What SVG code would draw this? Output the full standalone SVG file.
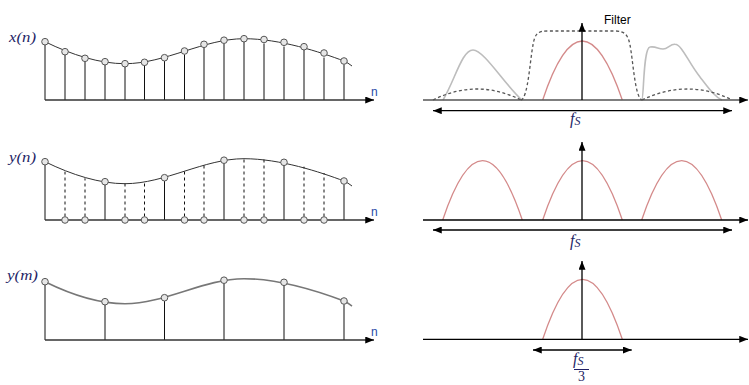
<svg xmlns="http://www.w3.org/2000/svg" width="749" height="385" viewBox="0 0 749 385">
<defs>
<marker id="ah" viewBox="0 0 10 8" refX="10" refY="4" markerWidth="9" markerHeight="7" markerUnits="userSpaceOnUse" orient="auto-start-reverse">
<path d="M0,0 L10,4 L0,8 Z" fill="#000"/>
</marker>
<path id="curve" d="M45,41.7 C72,55 100,63.7 125,63.7 C165,63.7 204,38.7 244,38.7 C280,38.7 320,52 344,61 C347,62.2 349,64 352,66"/>
</defs>
<style>
.lbl{font-family:"Liberation Serif",serif;font-style:italic;fill:#1f1f66;font-size:15px}
.nl{font-family:"Liberation Sans",sans-serif;fill:#2a4aa8;font-size:12px}
.stem{stroke:#111;stroke-width:1;fill:none}
.dstem{stroke:#111;stroke-width:1;stroke-dasharray:3,3;fill:none}
.pt{fill:#e6e6e6;stroke:#555;stroke-width:1}
.axis{stroke:#333;stroke-width:1.3;fill:none}
.red{stroke:#d48a8a;stroke-width:1.3;fill:none}
.grey{stroke:#bdbdbd;stroke-width:1.6;fill:none}
.filt{stroke:#555;stroke-width:1.3;stroke-dasharray:3,2.5;fill:none}
.fs{font-family:"Liberation Serif",serif;font-style:italic;fill:#1f1f66;font-size:16px}
.sans{font-family:"Liberation Sans",sans-serif;fill:#000;font-size:12px}
</style>

<!-- Left panel 1: x(n) -->
<g id="xn">
<text class="lbl" x="9" y="42" textLength="27" lengthAdjust="spacingAndGlyphs">x(n)</text>
<use href="#curve" fill="none" stroke="#333" stroke-width="1"/>
<g class="stem">
<line x1="45" y1="100" x2="45" y2="45"/><line x1="65" y1="100" x2="65" y2="55"/><line x1="85" y1="100" x2="85" y2="62"/><line x1="105" y1="100" x2="105" y2="65"/><line x1="125" y1="100" x2="125" y2="67"/><line x1="144.5" y1="100" x2="144.5" y2="65"/><line x1="164.5" y1="100" x2="164.5" y2="61"/><line x1="184.5" y1="100" x2="184.5" y2="54.5"/><line x1="204" y1="100" x2="204" y2="47.5"/><line x1="224" y1="100" x2="224" y2="44"/><line x1="244" y1="100" x2="244" y2="42"/><line x1="264" y1="100" x2="264" y2="43.5"/><line x1="284" y1="100" x2="284" y2="46.5"/><line x1="304" y1="100" x2="304" y2="50"/><line x1="324" y1="100" x2="324" y2="57.5"/><line x1="344" y1="100" x2="344" y2="64.5"/>
</g>
<g class="pt">
<circle cx="45" cy="41.7" r="3.3"/><circle cx="65" cy="51.7" r="3.3"/><circle cx="85" cy="58.3" r="3.3"/><circle cx="105" cy="61.7" r="3.3"/><circle cx="125" cy="63.7" r="3.3"/><circle cx="144.5" cy="62.3" r="3.3"/><circle cx="164.5" cy="57.7" r="3.3"/><circle cx="184.5" cy="51" r="3.3"/><circle cx="204" cy="44.3" r="3.3"/><circle cx="224" cy="40.2" r="3.3"/><circle cx="244" cy="38.7" r="3.3"/><circle cx="264" cy="39.5" r="3.3"/><circle cx="284" cy="42.3" r="3.3"/><circle cx="304" cy="46.7" r="3.3"/><circle cx="324" cy="53" r="3.3"/><circle cx="344" cy="61" r="3.3"/>
</g>
<line class="axis" x1="45" y1="100" x2="374" y2="100" marker-end="url(#ah)"/>
<text class="nl" x="371" y="96">n</text>
</g>

<!-- Left panel 2: y(n) -->
<g id="yn" transform="translate(0,120)">
<text class="lbl" x="9" y="42" textLength="27" lengthAdjust="spacingAndGlyphs">y(n)</text>
<use href="#curve" fill="none" stroke="#333" stroke-width="1"/>
<g class="stem">
<line x1="45" y1="100" x2="45" y2="45"/><line x1="105" y1="100" x2="105" y2="65"/><line x1="164.5" y1="100" x2="164.5" y2="61"/><line x1="224" y1="100" x2="224" y2="43.5"/><line x1="284" y1="100" x2="284" y2="45.6"/><line x1="344" y1="100" x2="344" y2="64.5"/>
</g>
<g class="dstem">
<line x1="65" y1="96.5" x2="65" y2="51.7"/><line x1="85" y1="96.5" x2="85" y2="58.3"/><line x1="125" y1="96.5" x2="125" y2="63.7"/><line x1="144.5" y1="96.5" x2="144.5" y2="62.3"/><line x1="184.5" y1="96.5" x2="184.5" y2="51"/><line x1="204" y1="96.5" x2="204" y2="44.3"/><line x1="244" y1="96.5" x2="244" y2="38.7"/><line x1="264" y1="96.5" x2="264" y2="39.5"/><line x1="304" y1="96.5" x2="304" y2="46.7"/><line x1="324" y1="96.5" x2="324" y2="53"/>
</g>
<line class="axis" x1="45" y1="100" x2="374" y2="100" marker-end="url(#ah)"/>
<g class="pt">
<circle cx="45" cy="41.7" r="3.3"/><circle cx="105" cy="61.7" r="3.3"/><circle cx="164.5" cy="57.7" r="3.3"/><circle cx="224" cy="40.2" r="3.3"/><circle cx="284" cy="42.3" r="3.3"/><circle cx="344" cy="61" r="3.3"/>
<circle cx="65" cy="100" r="3.3"/><circle cx="85" cy="100" r="3.3"/><circle cx="125" cy="100" r="3.3"/><circle cx="144.5" cy="100" r="3.3"/><circle cx="184.5" cy="100" r="3.3"/><circle cx="204" cy="100" r="3.3"/><circle cx="244" cy="100" r="3.3"/><circle cx="264" cy="100" r="3.3"/><circle cx="304" cy="100" r="3.3"/><circle cx="324" cy="100" r="3.3"/>
</g>
<text class="nl" x="371" y="96">n</text>
</g>

<!-- Left panel 3: y(m) -->
<g id="ym" transform="translate(0,240)">
<text class="lbl" x="7" y="40" textLength="31" lengthAdjust="spacingAndGlyphs">y(m)</text>
<use href="#curve" fill="none" stroke="#777" stroke-width="1.6"/>
<g class="stem">
<line x1="45" y1="100" x2="45" y2="45"/><line x1="105" y1="100" x2="105" y2="65"/><line x1="164.5" y1="100" x2="164.5" y2="61"/><line x1="224" y1="100" x2="224" y2="43.5"/><line x1="284" y1="100" x2="284" y2="45.6"/><line x1="344" y1="100" x2="344" y2="64.5"/>
</g>
<g class="pt">
<circle cx="45" cy="41.7" r="3.3"/><circle cx="105" cy="61.7" r="3.3"/><circle cx="164.5" cy="57.7" r="3.3"/><circle cx="224" cy="40.2" r="3.3"/><circle cx="284" cy="42.3" r="3.3"/><circle cx="344" cy="61" r="3.3"/>
</g>
<line class="axis" x1="45" y1="100" x2="374" y2="100" marker-end="url(#ah)"/>
<text class="nl" x="371" y="96">n</text>
</g>

<!-- Right panel 1: spectrum with filter -->
<g id="spec1">
<path class="grey" d="M443,100 C455,80 462,50 473,50 C484,50 505,85 522,100"/>
<path class="grey" d="M641.7,100 C644,100 643,48 650,47 C656,46 658,49 663,49 C668,49 670,44 675,44.3 C682,44.5 688,62 700,77 C710,90 715,97 722,100"/>
<path class="filt" d="M433,100 Q477,78 521,100"/>
<path class="filt" d="M642,100 Q688,78 732,100"/>
<path class="filt" d="M521,100 C528,98 530,60 533,45 C535,33 538,31 548,31 L615,31 C625,31 628,35 630,45 C633,60 635,98 642,100"/>
<path class="red" d="M542.7,100 Q582,-18 622.3,100"/>
<line x1="423" y1="100" x2="748" y2="100" stroke="#555" stroke-width="1.5" marker-end="url(#ah)"/>
<line x1="582" y1="100" x2="582" y2="23" stroke="#000" stroke-width="1.3" marker-end="url(#ah)"/>
<line x1="433" y1="110.7" x2="732" y2="110.7" stroke="#000" stroke-width="1.3" marker-start="url(#ah)" marker-end="url(#ah)"/>
<text class="sans" x="604" y="24">Filter</text>
<text class="fs" x="570" y="124">f<tspan font-size="12" dy="1">S</tspan></text>
</g>

<!-- Right panel 2 -->
<g id="spec2">
<path class="red" d="M442.7,220 Q482.5,101.4 522.3,220"/>
<path class="red" d="M542.7,220 Q582.5,101.4 622.3,220"/>
<path class="red" d="M641.7,220 Q681.7,101.4 721.7,220"/>
<line x1="423" y1="220" x2="748" y2="220" stroke="#000" stroke-width="1.3" marker-end="url(#ah)"/>
<line x1="582" y1="220" x2="582" y2="142" stroke="#000" stroke-width="1.3" marker-end="url(#ah)"/>
<line x1="433" y1="230" x2="732" y2="230" stroke="#000" stroke-width="1.3" marker-start="url(#ah)" marker-end="url(#ah)"/>
<text class="fs" x="570" y="246">f<tspan font-size="12" dy="1">S</tspan></text>
</g>

<!-- Right panel 3 -->
<g id="spec3">
<path class="red" d="M542.7,339.3 Q582.5,219.3 622.3,339.3"/>
<line x1="423" y1="339.3" x2="748" y2="339.3" stroke="#000" stroke-width="1.3" marker-end="url(#ah)"/>
<line x1="582" y1="339.3" x2="582" y2="261" stroke="#000" stroke-width="1.3" marker-end="url(#ah)"/>
<line x1="533" y1="350" x2="631.7" y2="350" stroke="#000" stroke-width="1.3" marker-start="url(#ah)" marker-end="url(#ah)"/>
<text class="fs" x="573" y="364">f<tspan font-size="12" dy="1">S</tspan></text>
<line x1="574" y1="369.5" x2="589" y2="369.5" stroke="#1f1f66" stroke-width="1"/>
<text x="581.5" y="381" text-anchor="middle" font-family="Liberation Serif, serif" font-size="14" fill="#1f1f66">3</text>
</g>
</svg>
